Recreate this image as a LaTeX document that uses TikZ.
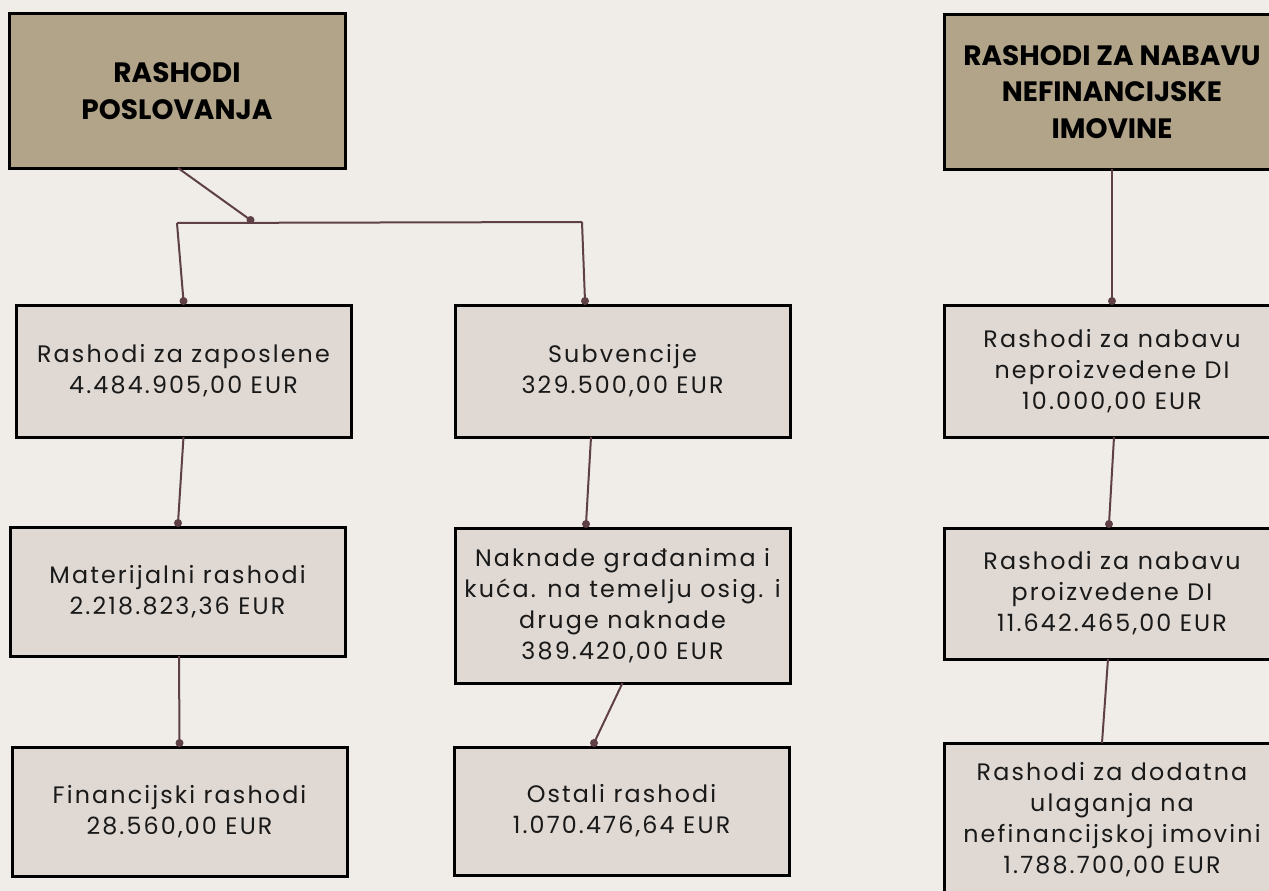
\documentclass[tikz,border=0pt]{standalone}
\usepackage{fontspec}
\setmainfont{Poppins}
\newfontfamily\bodyf[LetterSpace=9]{Poppins}
\newfontfamily\headf{Poppins}
\definecolor{bgcol}{HTML}{F0EDE9}
\definecolor{headfill}{HTML}{B1A489}
\definecolor{boxfill}{HTML}{DFD8D3}
\definecolor{conncol}{HTML}{5E4046}
\tikzset{
  every node/.style={inner sep=0pt, outer sep=0pt},
  headbox/.style={draw=black, line width=3pt, fill=headfill, minimum width=336pt, minimum height=154pt, align=center, text=black, font=\headf\bfseries\fontsize{28}{36.5}\selectfont},
  itembox/.style={draw=black, line width=3pt, fill=boxfill, minimum width=335pt, minimum height=131pt, align=center, text=black!90, font=\bodyf\fontsize{23.8}{31}\selectfont},
  conn/.style={draw=conncol, line width=2pt},
  dotc/.style={fill=conncol}
}
\begin{document}
\begin{tikzpicture}[x=1pt,y=-1pt]
\useasboundingbox (0,0) rectangle (1269,891);
\fill[bgcol] (0,0) rectangle (1269,891);
\clip (0,0) rectangle (1269,891);
% headers
\node[headbox] (hl) at (177,91) {RASHODI\\POSLOVANJA};
\node[headbox] (hr) at (1112,92) {RASHODI ZA NABAVU\\NEFINANCIJSKE\\IMOVINE};
% left column
\node[itembox, minimum height=132pt] (a1) at (183.5,371) {Rashodi za zaposlene\\4.484.905,00 EUR};
\node[itembox, minimum height=129pt] (a2) at (177.5,591.5) {Materijalni rashodi\\2.218.823,36 EUR};
\node[itembox, minimum height=129pt] (a3) at (179.5,811.5) {Financijski rashodi\\28.560,00 EUR};
% middle column
\node[itembox, minimum height=132pt] (b1) at (622.5,371) {Subvencije\\329.500,00 EUR};
\node[itembox, minimum height=155pt] (b2) at (622.5,605.5) {Naknade građanima i\\kuća. na temelju osig. i\\druge naknade\\389.420,00 EUR};
\node[itembox, minimum height=128pt] (b3) at (621.5,811) {Ostali rashodi\\1.070.476,64 EUR};
% right column
\node[itembox, minimum width=336pt, minimum height=132pt] (c1) at (1112,371) {Rashodi za nabavu\\neproizvedene DI\\10.000,00 EUR};
\node[itembox, minimum width=336pt, minimum height=131pt] (c2) at (1112,593.5) {Rashodi za nabavu\\proizvedene DI\\11.642.465,00 EUR};
\node[itembox, minimum width=336pt, minimum height=154pt] (c3) at (1112,820) {Rashodi za dodatna\\ulaganja na\\nefinancijskoj imovini\\1.788.700,00 EUR};
% connector end points (dots sit just above the box tops)
\coordinate (j) at (250.5,220);
\coordinate (jl) at (177,223);
\coordinate (jr) at (582,222);
\coordinate (ea1) at ([yshift=4pt]a1.north);
\coordinate (eb1) at ([xshift=-37.5pt,yshift=4pt]b1.north);
\coordinate (ea2) at ([xshift=0.5pt,yshift=4pt]a2.north);
\coordinate (ea3) at ([yshift=4pt]a3.north);
\coordinate (eb2) at ([xshift=-36.5pt,yshift=4pt]b2.north);
\coordinate (eb3) at ([xshift=-27.5pt,yshift=4pt]b3.north);
\coordinate (ec1) at ([yshift=4pt]c1.north);
\coordinate (ec2) at ([xshift=-3pt,yshift=4pt]c2.north);
% connectors
\draw[conn] ([xshift=1pt]hl.south) -- (j);
\draw[conn] (jl) -- (jr);
\draw[conn] (jl) -- (ea1);
\draw[conn] (jr) -- (eb1);
\draw[conn] (a1.south) -- (ea2);
\draw[conn] ([xshift=1.5pt]a2.south) -- (ea3);
\draw[conn] ([xshift=-31.5pt]b1.south) -- (eb2);
\draw[conn] (b2.south) -- (eb3);
\draw[conn] (hr.south) -- (ec1);
\draw[conn] ([xshift=2pt]c1.south) -- (ec2);
\draw[conn] ([xshift=-4pt]c2.south) -- ([xshift=-10pt]c3.north);
% dots
\foreach \p in {j,ea1,eb1,ea2,ea3,eb2,eb3,ec1,ec2}
  \fill[dotc] (\p) circle (4pt);
\end{tikzpicture}
\end{document}
